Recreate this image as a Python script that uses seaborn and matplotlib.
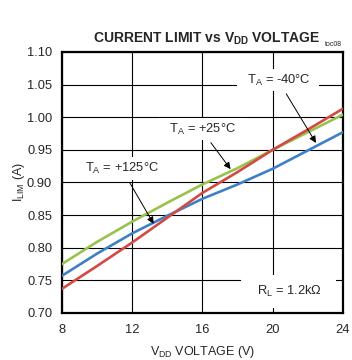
import matplotlib
matplotlib.use("Agg")
import matplotlib.pyplot as plt
import seaborn as sns
import pandas as pd

vdd = [8, 10, 12, 14, 16, 18, 20, 22, 24]
i_m40 = [0.757, 0.791, 0.822, 0.849, 0.875, 0.897, 0.921, 0.949, 0.977]
i_p25 = [0.775, 0.809, 0.840, 0.869, 0.897, 0.922, 0.950, 0.977, 1.004]
i_p125 = [0.737, 0.772, 0.808, 0.846, 0.884, 0.916, 0.950, 0.981, 1.013]
series = ["-40", "+25", "+125"]
x_ticks = [8, 12, 16, 20, 24]
y_ticks = [0.70, 0.75, 0.80, 0.85, 0.90, 0.95, 1.00, 1.05, 1.10]

df = pd.concat([
    pd.DataFrame({"V": vdd, "I": i_m40, "T": series[0]}),
    pd.DataFrame({"V": vdd, "I": i_p25, "T": series[1]}),
    pd.DataFrame({"V": vdd, "I": i_p125, "T": series[2]}),
])

sns.set_style("white")
plt.rcParams["font.family"] = ["Liberation Sans", "DejaVu Sans"]
plt.rcParams["mathtext.fontset"] = "custom"
plt.rcParams["mathtext.rm"] = "Liberation Sans"
plt.rcParams["mathtext.it"] = "Liberation Sans"
plt.rcParams["mathtext.bf"] = "Liberation Sans:bold"

fig = plt.figure(figsize=(3.52, 3.6), dpi=100)
ax = fig.add_axes([0.176, 0.1306, 0.798, 0.725])

palette = {"-40": "#3d80c6", "+25": "#98c24c", "+125": "#d24a44"}
sns.lineplot(data=df, x="V", y="I", hue="T", palette=palette, linewidth=1.9,
             legend=False, ax=ax, zorder=3)

ax.set_xlim(8, 24)
ax.set_ylim(0.70, 1.10)
ax.set_xticks(x_ticks)
ax.set_yticks(y_ticks)
ax.set_xticklabels([str(t) for t in x_ticks], fontsize=9.3)
ax.set_yticklabels([f"{t:.2f}" for t in y_ticks], fontsize=9.3)
ax.tick_params(axis="x", length=0, pad=8)
ax.tick_params(axis="y", length=0, pad=7)
ax.grid(True, color="black", linewidth=0.8)
for s in ax.spines.values():
    s.set_visible(True)
    s.set_color("black")
    s.set_linewidth(1.6)

ax.set_xlabel(r"V$_{\mathregular{DD}}$ VOLTAGE (V)", fontsize=9, labelpad=6)
ax.set_ylabel(r"I$_{\mathregular{LIM}}$ (A)", fontsize=9, labelpad=0)

fig.text(0.588, 0.893, r"CURRENT LIMIT vs V$_{\mathbf{DD}}$ VOLTAGE", fontsize=10,
         fontweight="bold", ha="center", va="center")
fig.text(0.948, 0.876, "toc08", fontsize=5, ha="center", va="center")

bbox = dict(boxstyle="square,pad=0.3", fc="white", ec="none")
arrow = dict(arrowstyle="-|>", color="black", lw=0.7, mutation_scale=10)

ax.annotate(r"  T$_{\mathregular{A}}$ = -40°C  ", xy=(22.55, 0.957), xytext=(20.3, 1.057),
            fontsize=9.3, ha="center", va="center", bbox=bbox, arrowprops=arrow, zorder=5)
ax.annotate(r"  T$_{\mathregular{A}}$ = +25°C  ", xy=(17.7, 0.917), xytext=(15.9, 0.982),
            fontsize=9.3, ha="center", va="center", bbox=bbox, arrowprops=arrow, zorder=5)
ax.annotate(r"T$_{\mathregular{A}}$ = +125°C", xy=(13.3, 0.833), xytext=(11.4, 0.921),
            fontsize=9.3, ha="center", va="center", bbox=bbox, arrowprops=arrow, zorder=5)
ax.text(20.9, 0.733, r"  R$_{\mathregular{L}}$ = 1.2kΩ  ", fontsize=9.3, ha="center", va="center",
        bbox=dict(boxstyle="square,pad=0.7", fc="white", ec="none"), zorder=5)

fig.savefig("out.png", dpi=100)
